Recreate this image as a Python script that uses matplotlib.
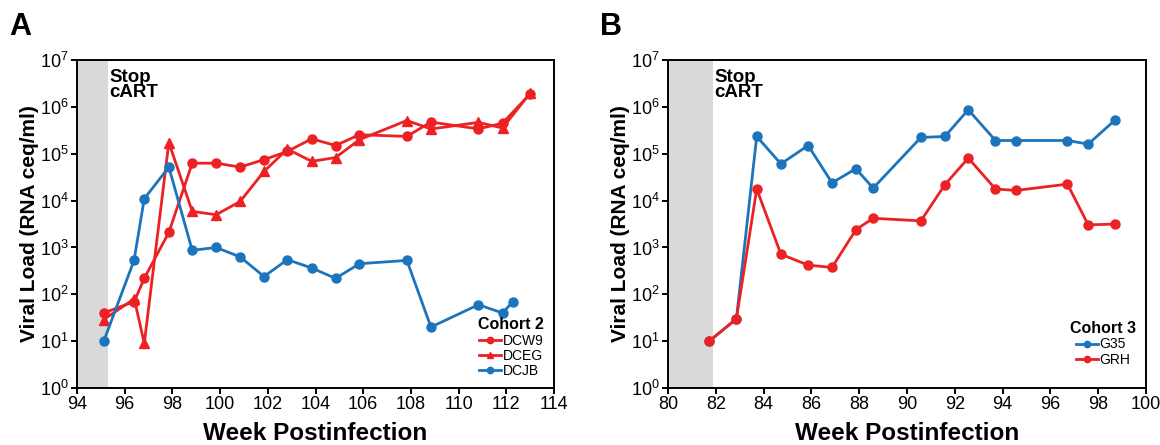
import numpy as np
import matplotlib
matplotlib.use("Agg")
import matplotlib.pyplot as plt

plt.rcParams['font.family'] = ['Liberation Sans', 'DejaVu Sans']

RED = '#ED2024'
BLUE = '#1C75BC'

# Panel A, cohort 2
dcw9_wk = [95.12, 96.40, 96.82, 97.85, 98.83, 99.83, 100.84, 101.84, 102.82, 103.84,
           104.84, 105.84, 107.83, 108.84, 110.83, 111.84, 113.0]
dcw9_vl = [40, 70, 220, 2100, 63000, 63000, 52000, 75000, 112000, 209000,
           150000, 255000, 235000, 475000, 340000, 450000, 1.9e6]

dceg_wk = [95.12, 96.40, 96.82, 97.85, 98.83, 99.83, 100.84, 101.84, 102.82, 103.84,
           104.84, 105.84, 107.83, 108.84, 110.83, 111.84, 113.0]
dceg_vl = [29, 80, 9, 174000, 5900, 5000, 9600, 42000, 126000, 69000,
           83000, 200000, 513000, 338000, 468000, 355000, 1.97e6]

dcjb_wk = [95.12, 96.39, 96.82, 97.85, 98.83, 99.83, 100.84, 101.84, 102.82, 103.84,
           104.84, 105.84, 107.83, 108.84, 110.83, 111.84, 112.28]
dcjb_vl = [10, 530, 11000, 52000, 870, 1000, 630, 240, 550, 365,
           219, 450, 530, 20, 60, 40, 70]

# Panel B, cohort 3
c3_wk = [81.72, 82.86, 83.71, 84.72, 85.86, 86.86, 87.86, 88.58, 90.58, 91.58,
         92.56, 93.70, 94.56, 96.71, 97.58, 98.72]
g35_vl = [10, 30, 234000, 61000, 150000, 24000, 48000, 18500, 223000, 234000,
          870000, 192000, 192000, 192000, 161000, 535000]
grh_vl = [10, 30, 17700, 720, 420, 375, 2400, 4200, 3700, 21800,
          81000, 17700, 16500, 22500, 3040, 3160]

stop_a = 95.3
stop_b = 81.87

fig = plt.figure(figsize=(11.6, 4.45), dpi=100)
axA = fig.add_axes([0.0664, 0.128, 0.4112, 0.737])
axB = fig.add_axes([0.5759, 0.128, 0.4121, 0.737])


def style(ax, xlim, xticks, stop):
    ax.set_yscale('log')
    ax.set_ylim(1, 1e7)
    ax.set_xlim(*xlim)
    ax.set_xticks(xticks)
    ax.set_yticks([10.0 ** k for k in range(8)])
    ax.minorticks_off()
    ax.axvspan(xlim[0], stop, color='#D9D9D9', lw=0, zorder=0)
    for s in ax.spines.values():
        s.set_linewidth(1.4)
    ax.tick_params(direction='out', length=4, width=1.4, labelsize=13, pad=2)
    ax.set_xlabel('Week Postinfection', fontsize=17.5, fontweight='bold', labelpad=6)
    ax.set_ylabel('Viral Load (RNA ceq/ml)', fontsize=15, fontweight='bold', labelpad=1)
    ax.text(stop + 0.06, 3.0e6, 'Stop\ncART', fontsize=13.5, fontweight='bold',
            va='center', ha='left', linespacing=0.85)


def legend(ax, title, anchor):
    leg = ax.legend(title=title, loc='lower right', bbox_to_anchor=anchor,
                    frameon=False, fontsize=10, handlelength=1.6,
                    handletextpad=0.1, labelspacing=0.1, borderaxespad=0.3,
                    markerscale=0.7)
    leg.get_title().set_fontweight('bold')
    leg.get_title().set_fontsize(11.5)


kw = dict(lw=2, ms=6.5)
style(axA, (94, 114), range(94, 115, 2), stop_a)
axA.plot(dcw9_wk, dcw9_vl, '-o', color=RED, label='DCW9', **kw)
axA.plot(dceg_wk, dceg_vl, '-^', color=RED, label='DCEG', **kw)
axA.plot(dcjb_wk, dcjb_vl, '-o', color=BLUE, label='DCJB', **kw)
legend(axA, 'Cohort 2', (1.0, 0.0))

style(axB, (80, 100), range(80, 101, 2), stop_b)
axB.plot(c3_wk, g35_vl, '-o', color=BLUE, label='G35', **kw)
axB.plot(c3_wk, grh_vl, '-o', color=RED, label='GRH', **kw)
legend(axB, 'Cohort 3', (1.0, 0.035))

fig.text(0.008, 0.94, 'A', fontsize=22, fontweight='bold', va='center')
fig.text(0.517, 0.94, 'B', fontsize=22, fontweight='bold', va='center')

fig.savefig('out.png', dpi=100)
